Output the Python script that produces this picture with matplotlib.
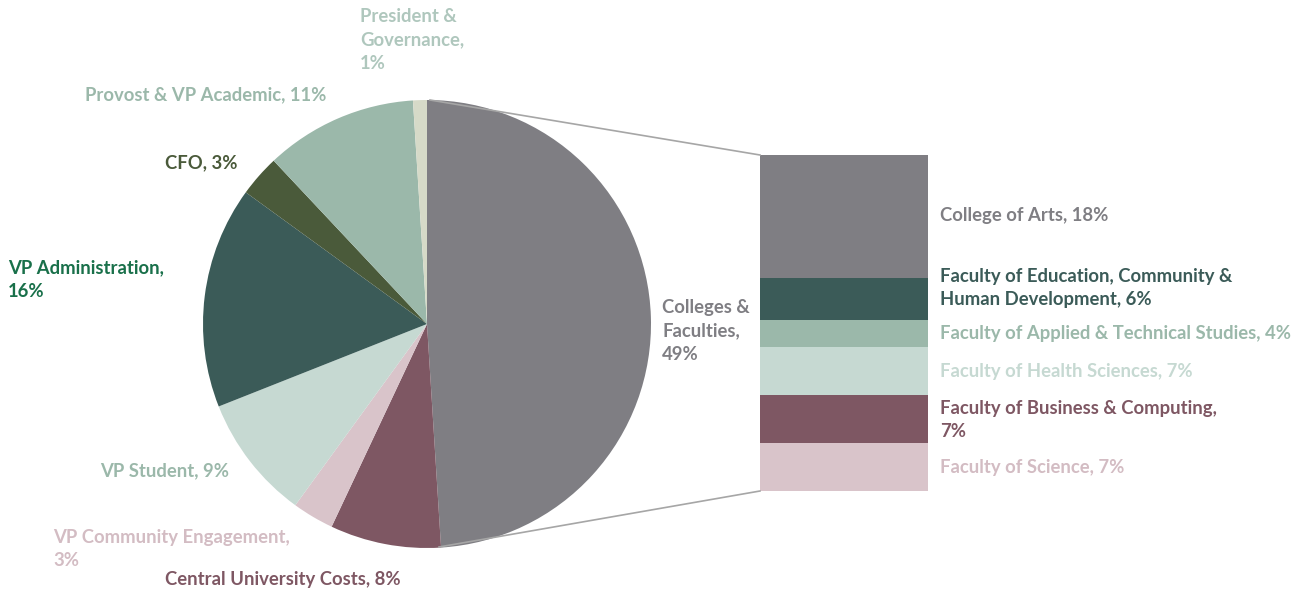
import matplotlib.pyplot as plt
import numpy as np

plt.rcParams["font.family"] = ["Lato", "DejaVu Sans"]

# pie slices, clockwise from 12 o'clock
pie_labels = [
    "Colleges &\nFaculties,\n49%",
    "Central University Costs, 8%",
    "VP Community Engagement,\n3%",
    "VP Student, 9%",
    "VP Administration,\n16%",
    "CFO, 3%",
    "Provost & VP Academic, 11%",
    "President &\nGovernance,\n1%",
]
pie_values = [49, 8, 3, 9, 16, 3, 11, 1]
pie_colors = ["#7f7e83", "#7e5763", "#d9c4ca", "#c6d9d2", "#3b5b58", "#4a5a3a", "#9bb8aa", "#d6dac8"]
pie_text_colors = ["#7f7e83", "#7e5763", "#d3bcc3", "#9bb8aa", "#19704a", "#4a5a3a", "#9bb8aa", "#afc7bd"]

# breakdown of "Colleges & Faculties", top to bottom
bar_labels = [
    "College of Arts, 18%",
    "Faculty of Education, Community &\nHuman Development, 6%",
    "Faculty of Applied & Technical Studies, 4%",
    "Faculty of Health Sciences, 7%",
    "Faculty of Business & Computing,\n7%",
    "Faculty of Science, 7%",
]
bar_values = [18, 6, 4, 7, 7, 7]
bar_colors = ["#7f7e83", "#3b5b58", "#9bb8aa", "#c6d9d2", "#7e5763", "#d9c4ca"]
bar_text_colors = ["#7f7e83", "#3b5b58", "#9bb8aa", "#c6d9d2", "#7e5763", "#d3bcc3"]

W, H = 1311, 592
fig = plt.figure(figsize=(W / 100, H / 100), dpi=100)
ax = fig.add_axes([0, 0, 1, 1])

cx, cy, r = 427, 592 - 324, 224
ax.pie(
    pie_values,
    colors=pie_colors,
    startangle=90,
    counterclock=False,
    center=(cx, cy),
    radius=r,
    wedgeprops=dict(linewidth=0),
    frame=True,
)
ax.set_xlim(0, W)
ax.set_ylim(0, H)
ax.set_aspect("equal")
ax.axis("off")

# stacked bar, scaled to the pie share
bar_x, bar_w = 760, 168
bar_top, bar_bot = 592 - 155, 592 - 491
scale = (bar_top - bar_bot) / sum(bar_values)
top = bar_top
for v, c in zip(bar_values, bar_colors):
    h = v * scale
    ax.bar(bar_x + bar_w / 2, h, width=bar_w, bottom=top - h, color=c, linewidth=0)
    top -= h

# connector lines
ax.plot([cx + 3, bar_x], [cy + r, bar_top], color="#a6a6a6", lw=1.2)
ax.plot([cx + 12, bar_x], [cy - r + 1, bar_bot], color="#a6a6a6", lw=1.2)

FS = 13.3
LS = 1.48

# pie labels (pixel positions of the left edge and vertical centre)
pie_pos = [(662, 331), (165, 579), (53, 549), (100, 471), (8, 280), (165, 163), (85, 95), (360, 40)]
for lab, col, (x, y) in zip(pie_labels, pie_text_colors, pie_pos):
    ax.text(x, 592 - y, lab, color=col, fontsize=FS, fontweight="bold",
            ha="left", va="center", linespacing=LS)

bar_text_y = [216, 288, 333, 372, 420, 467]
for lab, col, y in zip(bar_labels, bar_text_colors, bar_text_y):
    ax.text(940, 592 - y, lab, color=col, fontsize=FS, fontweight="bold",
            ha="left", va="center", linespacing=LS)

fig.savefig("out.png", dpi=100)
